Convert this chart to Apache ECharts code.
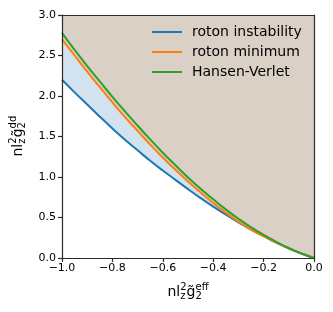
<!DOCTYPE html>
<html><head><meta charset="utf-8">
<script src="https://cdn.jsdelivr.net/npm/echarts@6/dist/echarts.min.js"></script>
<style>html,body{margin:0;padding:0;background:#fff}#c{width:333px;height:312px}</style>
</head><body><div id="c"></div>
<script>
const xValues = [-1.00,-0.95,-0.90,-0.85,-0.80,-0.75,-0.70,-0.65,-0.60,-0.55,-0.50,-0.45,-0.40,-0.35,-0.30,-0.25,-0.20,-0.15,-0.10,-0.05,0.00];
const rotonInstability = [2.20,2.045,1.895,1.745,1.60,1.46,1.33,1.20,1.08,0.965,0.85,0.74,0.635,0.535,0.44,0.35,0.27,0.19,0.12,0.055,0.00];
const rotonMinimum     = [2.70,2.50,2.30,2.11,1.92,1.74,1.57,1.40,1.24,1.09,0.945,0.81,0.68,0.56,0.45,0.35,0.27,0.19,0.12,0.055,0.00];
const hansenVerlet     = [2.78,2.57,2.37,2.18,1.99,1.81,1.635,1.465,1.30,1.145,0.995,0.855,0.725,0.60,0.485,0.38,0.285,0.20,0.12,0.055,0.00];
const seriesNames = ['roton instability','roton minimum','Hansen-Verlet'];
const yTop = 3.0;

const colors = ['#1f77b4','#ff7f0e','#2ca02c'];
const SM = 0.5;
const pairs = ys => xValues.map((x,i)=>[x, ys[i]]);
const fmt = v => (v < -1e-9 ? '\u2212' : '') + Math.abs(v).toFixed(1);
const FONT = '"DejaVu Sans", sans-serif';

const fillCommon = {type:'line', symbol:'none', smooth:SM,
  lineStyle:{width:0, opacity:0}, silent:true, emphasis:{disabled:true}};

const chart = echarts.init(document.getElementById('c'), null, {renderer:'canvas'});
const axisLineStyle = {color:'#2b2b2b', width:1.2};
chart.setOption({
  animation:false,
  grid:{left:62, right:19, top:15, bottom:54, containLabel:false},
  xAxis:[{type:'value', min:-1, max:0, interval:0.2, z:10,
    axisLine:{show:true, onZero:false, lineStyle:axisLineStyle},
    axisTick:{show:true, length:4, lineStyle:axisLineStyle},
    axisLabel:{formatter:fmt, color:'#000', fontSize:11, fontFamily:FONT, margin:5},
    splitLine:{show:false}},
   {type:'value', position:'top', min:-1, max:0, z:10,
    axisLine:{show:true, onZero:false, lineStyle:axisLineStyle},
    axisTick:{show:false}, axisLabel:{show:false}, splitLine:{show:false}}],
  yAxis:[{type:'value', min:0, max:3, interval:0.5, z:10,
    axisLine:{show:true, onZero:false, lineStyle:axisLineStyle},
    axisTick:{show:true, length:4, lineStyle:axisLineStyle},
    axisLabel:{formatter:fmt, color:'#000', fontSize:11, fontFamily:FONT, margin:6},
    splitLine:{show:false}},
   {type:'value', position:'right', min:0, max:3, z:10,
    axisLine:{show:true, onZero:false, lineStyle:axisLineStyle},
    axisTick:{show:false}, axisLabel:{show:false}, splitLine:{show:false}}],
  legend:{data:seriesNames, orient:'vertical', left:152, top:24, padding:0, itemGap:4,
    icon:'rect', itemWidth:30, itemHeight:2,
    textStyle:{fontSize:14, fontFamily:FONT, color:'#000', lineHeight:16, padding:[0,0,0,5]}},
  series:[
    Object.assign({}, fillCommon, {name:'_tan', z:1, data:pairs(xValues.map(()=>yTop)),
      areaStyle:{color:'#dbd0c5', opacity:1, origin:'start'}}),
    Object.assign({}, fillCommon, {name:'_blue', z:2, data:pairs(rotonMinimum),
      areaStyle:{color:'#d2e3ef', opacity:1, origin:'start'}}),
    Object.assign({}, fillCommon, {name:'_white', z:3, data:pairs(rotonInstability),
      areaStyle:{color:'#ffffff', opacity:1, origin:'start'}}),
    ...[rotonInstability, rotonMinimum, hansenVerlet].map((d,k)=>({
      name:seriesNames[k], type:'line', data:pairs(d), symbol:'none', smooth:SM, z:4+k,
      color:colors[k], lineStyle:{color:colors[k], width:2}, emphasis:{disabled:true}
    }))
  ],
  graphic:[
    {type:'group', x:167.4, y:292, children:[
      {type:'text', x:0, y:0, style:{text:'nl', font:'14px '+FONT, fill:'#000', verticalAlign:'middle'}},
      {type:'text', x:12.8, y:-5, style:{text:'2', font:'10px '+FONT, fill:'#000', verticalAlign:'middle'}},
      {type:'text', x:12.8, y:4, style:{text:'z', font:'10px '+FONT, fill:'#000', verticalAlign:'middle'}},
      {type:'text', x:19.2, y:0, style:{text:'g\u0303', font:'14px '+FONT, fill:'#000', verticalAlign:'middle'}},
      {type:'text', x:28.1, y:-5, style:{text:'eff', font:'10px '+FONT, fill:'#000', verticalAlign:'middle'}},
      {type:'text', x:28.1, y:4, style:{text:'2', font:'10px '+FONT, fill:'#000', verticalAlign:'middle'}}
    ]},
    {type:'group', x:18, y:156.5, rotation:Math.PI/2, children:[
      {type:'text', x:0, y:0, style:{text:'nl', font:'14px '+FONT, fill:'#000', verticalAlign:'middle'}},
      {type:'text', x:12.8, y:-5, style:{text:'2', font:'10px '+FONT, fill:'#000', verticalAlign:'middle'}},
      {type:'text', x:12.8, y:4, style:{text:'z', font:'10px '+FONT, fill:'#000', verticalAlign:'middle'}},
      {type:'text', x:19.2, y:0, style:{text:'g\u0303', font:'14px '+FONT, fill:'#000', verticalAlign:'middle'}},
      {type:'text', x:28.1, y:-5, style:{text:'dd', font:'10px '+FONT, fill:'#000', verticalAlign:'middle'}},
      {type:'text', x:28.1, y:4, style:{text:'2', font:'10px '+FONT, fill:'#000', verticalAlign:'middle'}}
    ]}
  ]
});
</script></body></html>
